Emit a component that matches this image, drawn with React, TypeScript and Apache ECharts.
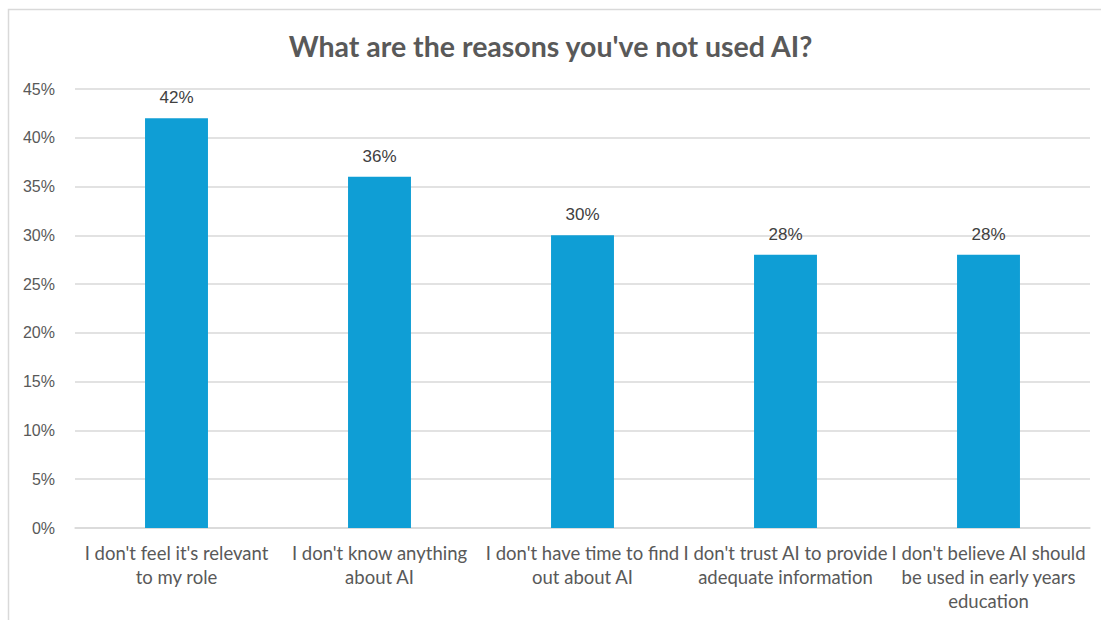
import React, { useEffect, useRef } from "react";
import * as echarts from "echarts";

const title = "What are the reasons you've not used AI?";
const categories = [
  "I don't feel it's relevant\nto my role",
  "I don't know anything\nabout AI",
  "I don't have time to find\nout about AI",
  "I don't trust AI to provide\nadequate information",
  "I don't believe AI should\nbe used in early years\neducation",
];
const values = [42, 36, 30, 28, 28];
const yMin = 0;
const yMax = 45;
const yStep = 5;

export default function App() {
  const ref = useRef<HTMLDivElement>(null);
  useEffect(() => {
    document.body.style.margin = "0";
    const chart = echarts.init(ref.current!, null, { renderer: "svg" });
    chart.setOption({
      animation: false,
      backgroundColor: "#ffffff",
      title: {
        text: title,
        left: "center",
        top: 26,
        textStyle: {
          fontFamily: "Lato",
          fontWeight: "bold",
          fontSize: 28.5,
          color: "#595959",
        },
      },
      graphic: [
        {
          type: "rect",
          shape: { x: 8.5, y: 9.5, width: 1200, height: 700 },
          style: { fill: "none", stroke: "#d9d9d9", lineWidth: 1.5 },
          silent: true,
        },
      ],
      grid: { left: 75, right: 11, top: 89, bottom: 92 },
      xAxis: {
        type: "category",
        data: categories,
        axisLine: { show: true, lineStyle: { color: "#d9d9d9", width: 1.5 } },
        axisTick: { show: false },
        axisLabel: {
          interval: 0,
          margin: 13,
          fontFamily: "Lato",
          fontSize: 18.5,
          lineHeight: 24,
          color: "#595959",
        },
      },
      yAxis: {
        type: "value",
        min: yMin,
        max: yMax,
        interval: yStep,
        axisLine: { show: false },
        axisTick: { show: false },
        splitLine: { lineStyle: { color: "#d9d9d9", width: 1.5 } },
        axisLabel: {
          formatter: "{value}%",
          margin: 20,
          fontFamily: "Liberation Sans",
          fontSize: 16,
          color: "#595959",
        },
      },
      series: [
        {
          type: "bar",
          data: values,
          barWidth: "31%",
          itemStyle: { color: "#0f9ed5" },
          label: {
            show: true,
            position: "top",
            distance: 12,
            formatter: "{c}%",
            fontFamily: "Liberation Sans",
            fontSize: 17,
            color: "#404040",
          },
        },
      ],
    });
    return () => chart.dispose();
  }, []);
  return <div ref={ref} style={{ width: 1101, height: 620 }} />;
}
